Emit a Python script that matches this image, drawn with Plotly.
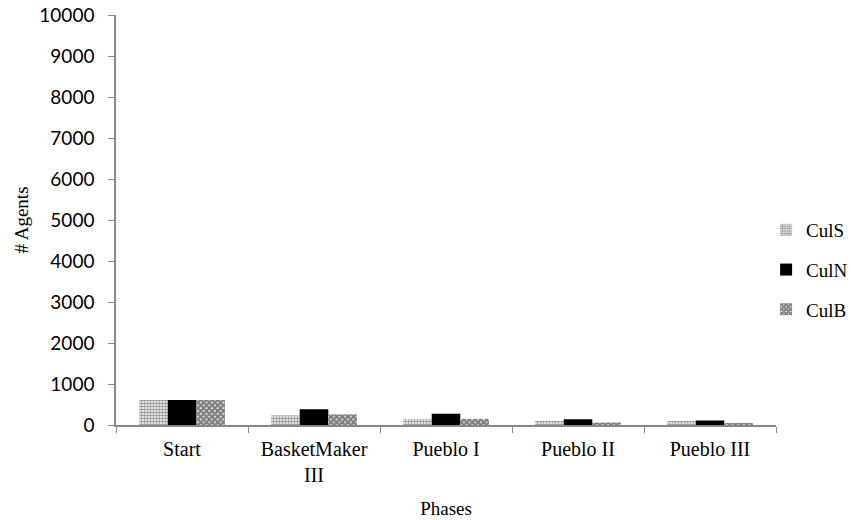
import plotly.graph_objects as go

phases = ["Start", "BasketMaker<br>III", "Pueblo I", "Pueblo II", "Pueblo III"]
culS = [610, 235, 150, 100, 100]
culN = [610, 385, 275, 140, 110]
culB = [610, 260, 150, 60, 30]
y_ticks = [0, 1000, 2000, 3000, 4000, 5000, 6000, 7000, 8000, 9000, 10000]
y_tick_labels = [str(v) for v in y_ticks]

serif = "Liberation Serif, Times New Roman, serif"
sans = "Lato, Liberation Sans, sans-serif"

fig = go.Figure()
fig.add_trace(go.Bar(name="CulS", x=phases, y=culS, legendgroup="s",
                     marker=dict(color="#ffffff", line=dict(width=0),
                                 pattern=dict(shape=".", fgcolor="#222222", bgcolor="#ffffff",
                                              size=3, solidity=0.6))))
fig.add_trace(go.Bar(name="CulN", x=phases, y=culN, legendgroup="n",
                     marker=dict(color="#000000", line=dict(width=0))))
fig.add_trace(go.Bar(name="CulB", x=phases, y=culB, legendgroup="b",
                     marker=dict(color="#ffffff", line=dict(width=0),
                                 pattern=dict(shape="x", fgcolor="#000000", bgcolor="#ffffff",
                                              size=4, solidity=0.85))))

fig.update_layout(
    width=851, height=520,
    margin=dict(l=116, r=75, t=15, b=95, autoexpand=False),
    paper_bgcolor="white", plot_bgcolor="white",
    barmode="group", bargap=0.35, bargroupgap=0,
    font=dict(family=serif, size=19, color="black"),
    showlegend=True,
    legend=dict(x=0.985, y=0.378, yanchor="middle", xanchor="left",
                font=dict(family=serif, size=19), tracegroupgap=12,
                itemwidth=30, bgcolor="rgba(0,0,0,0)"),
    xaxis=dict(
        title=dict(text="Phases", font=dict(family=serif, size=19), standoff=17),
        showline=True, linecolor="#888888", linewidth=1.5,
        ticks="outside", tickson="boundaries", ticklen=6, tickcolor="#888888",
        tickfont=dict(family=serif, size=20), ticklabelstandoff=5,
        showgrid=False, automargin=False,
    ),
    yaxis=dict(
        title=dict(text="# Agents", font=dict(family=serif, size=19), standoff=6),
        range=[0, 10000], tickvals=y_ticks, ticktext=y_tick_labels,
        showline=True, linecolor="#888888", linewidth=1.5,
        ticks="outside", ticklen=6, tickcolor="#888888",
        tickfont=dict(family=sans, size=19), ticklabelstandoff=10,
        ticklabeloverflow="allow",
        showgrid=False, zeroline=False, automargin=False,
    ),
)

fig.write_html("out.html", config={"displayModeBar": False},
               post_script="document.body.style.margin='0px';")
